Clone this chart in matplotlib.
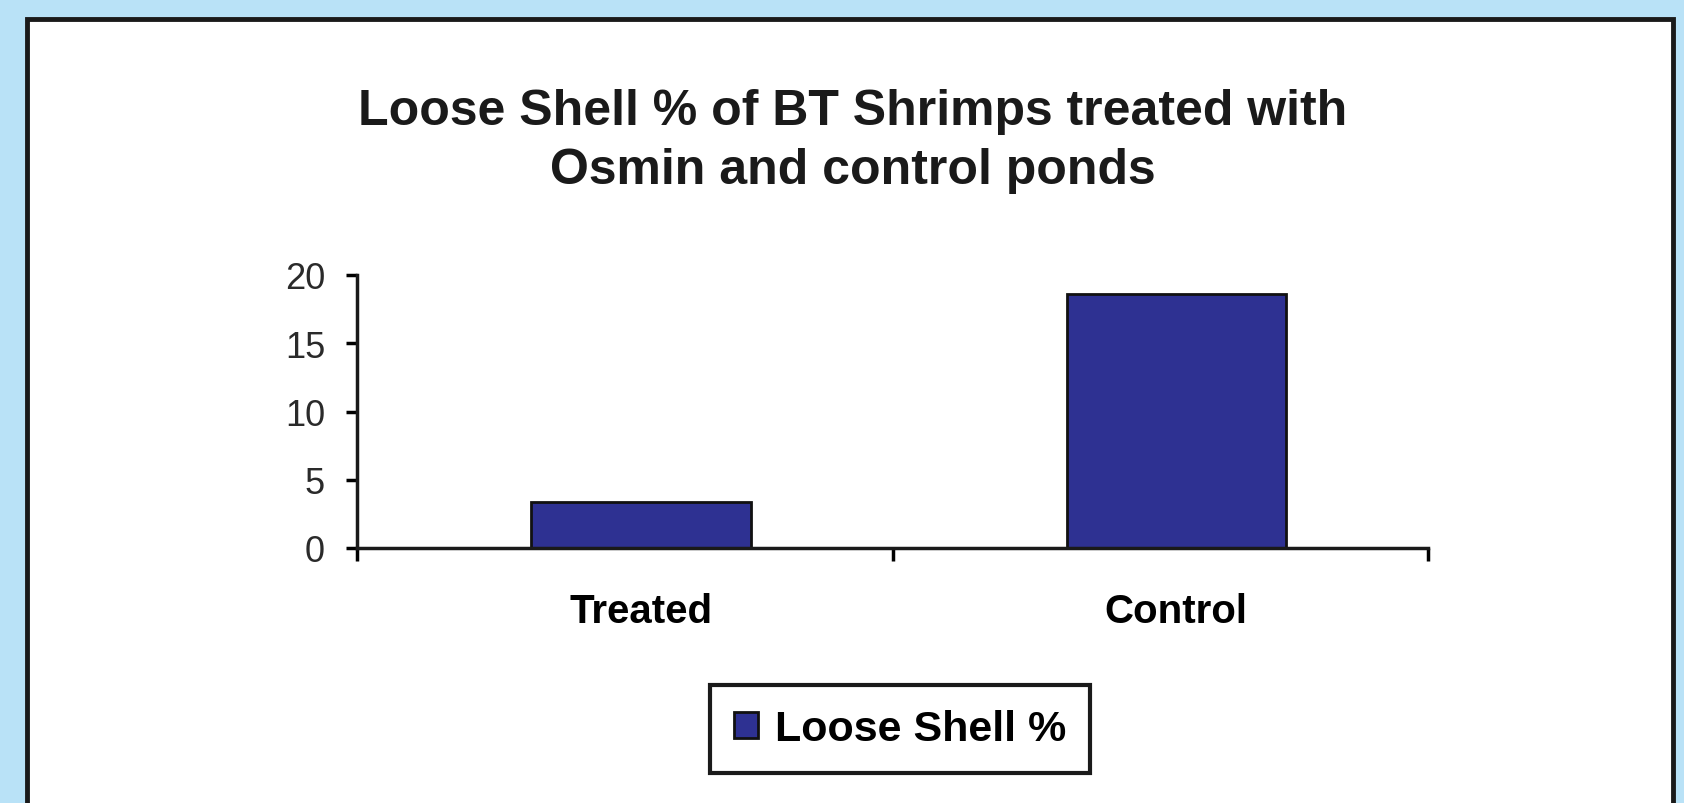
import matplotlib.pyplot as plt
from matplotlib.patches import Rectangle

# Data
categories = ['Treated', 'Control']
loose_shell = [3.4, 18.6]
series_name = 'Loose Shell %'
title = 'Loose Shell % of BT Shrimps treated with\nOsmin and control ponds'

plt.rcParams['font.family'] = ['Liberation Sans', 'DejaVu Sans']

fig = plt.figure(figsize=(16.84, 8.04), dpi=100)
fig.patch.set_facecolor('#b9e2f7')

# White panel with black border
panel = Rectangle((27 / 1684, -0.05), (1673 - 27) / 1684, 1 - 20 / 804 + 0.05,
                  transform=fig.transFigure, facecolor='white',
                  edgecolor='#1a1a1a', linewidth=3.5, zorder=-5)
fig.patches.append(panel)

ax = fig.add_axes([357 / 1684, 1 - 549 / 804, (1428 - 357) / 1684, (549 - 276) / 804])
ax.set_facecolor('none')
ax.set_zorder(2)

# bars in the original sit a little right of the category centre
shift = 0.03
x = [i + shift for i in range(len(categories))]
bars = ax.bar(x, loose_shell, width=0.41, color='#2e3192', edgecolor='#111111',
              linewidth=2, label=series_name)

ax.set_xlim(-0.5, len(categories) - 0.5)
ax.set_ylim(0, 20)
ax.set_yticks([0, 5, 10, 15, 20])
ax.tick_params(axis='y', labelsize=26, length=8, width=2.5, direction='out',
               pad=15, labelcolor='#2a2a2a')

# Ticks between categories, labels at category centres
ax.set_xticks([-0.5, 0.5, 1.5])
ax.set_xticklabels([])
ax.tick_params(axis='x', length=9, width=2.5, direction='out')
ax.set_xticks(x, minor=True)
ax.set_xticklabels(categories, minor=True, fontsize=29, fontweight='bold')
ax.tick_params(axis='x', which='minor', length=0, pad=32)

for side in ['top', 'right']:
    ax.spines[side].set_visible(False)
for side in ['left', 'bottom']:
    ax.spines[side].set_linewidth(2.5)
    ax.spines[side].set_color('#1a1a1a')

fig.text(853 / 1684, 1 - 184 / 804, title, ha='center', va='baseline',
         fontsize=36, fontweight='bold', linespacing=1.35, color='#1a1a1a')

leg = fig.legend(loc='center', bbox_to_anchor=(900 / 1684, 1 - 730 / 804),
                 prop={'size': 31, 'weight': 'bold'}, fancybox=False,
                 edgecolor='#1a1a1a', framealpha=1, handlelength=0.55,
                 handleheight=0.55, handletextpad=0.4, borderpad=0.55)
leg.get_frame().set_linewidth(3)

fig.savefig('out.png', dpi=100, facecolor=fig.get_facecolor())
